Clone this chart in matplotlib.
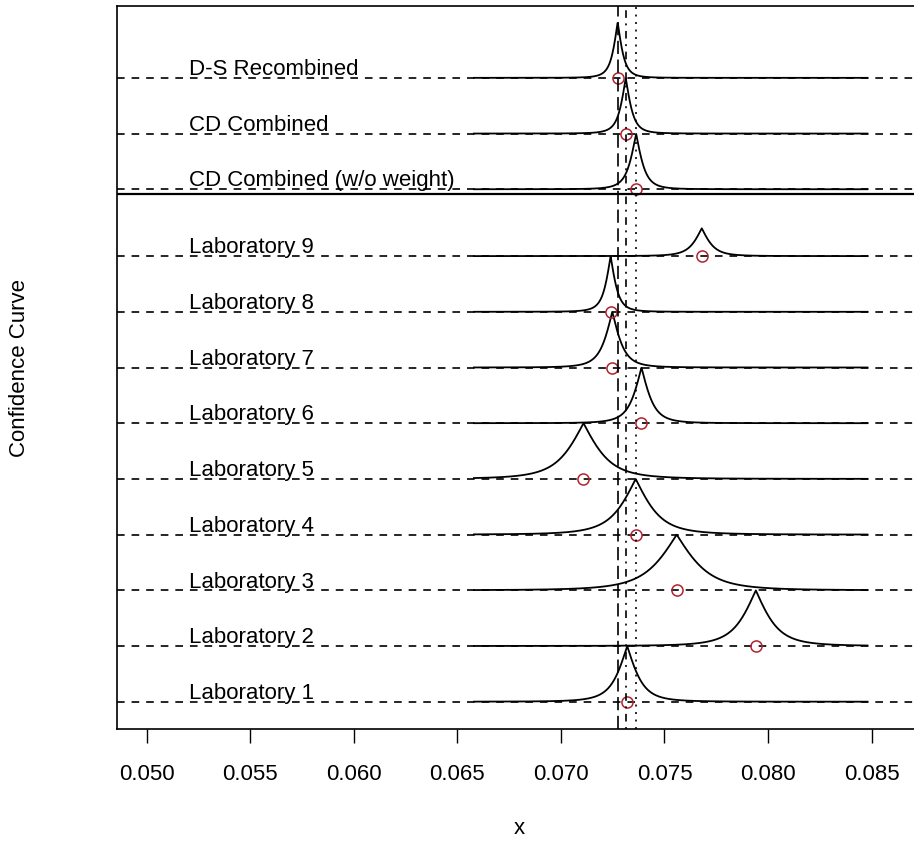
import numpy as np
import matplotlib
matplotlib.use("Agg")
import matplotlib.pyplot as plt

plt.rcParams['font.family'] = ['Liberation Sans', 'DejaVu Sans']
plt.rcParams['lines.scale_dashes'] = False

# study labels, point estimates, spreads and curve heights
labels = ["Laboratory 1", "Laboratory 2", "Laboratory 3", "Laboratory 4",
          "Laboratory 5", "Laboratory 6", "Laboratory 7", "Laboratory 8",
          "Laboratory 9", "CD Combined (w/o weight)", "CD Combined",
          "D-S Recombined"]
estimates = [0.0732, 0.07941, 0.07559, 0.07361, 0.07109, 0.07389, 0.07248,
             0.0724, 0.0768, 0.07363, 0.07313, 0.07274]
spreads = [0.000631, 0.000884, 0.00126, 0.00099, 0.00105, 0.000505, 0.000486,
           0.000316, 0.0005, 0.000379, 0.000316, 0.000284]
heights = [1, 1, 1, 1, 1, 1, 1, 1, 0.5, 1, 1, 1]
baselines = [1, 2, 3, 4, 5, 6, 7, 8, 9, 10.2, 11.2, 12.2]
separator = 10.11
x_lo, x_hi = 0.0658, 0.0848
xticks = [0.050, 0.055, 0.060, 0.065, 0.070, 0.075, 0.080, 0.085]


def conf_curve(x, mu, s):
    # two-sided confidence curve from a t(3) distribution
    t = np.abs(x - mu) / s
    cdf = 0.5 + (t / (np.sqrt(3) * (1 + t ** 2 / 3)) + np.arctan(t / np.sqrt(3))) / np.pi
    return 2 * (1 - cdf)


fig = plt.figure(figsize=(9.14, 8.42), dpi=100)
ax = fig.add_axes([116.7 / 914, 1 - 729 / 842, (922.3 - 116.7) / 914, 723 / 842])

xs = np.linspace(x_lo, x_hi, 1500)
for lab, mu, s, h, b in zip(labels, estimates, spreads, heights, baselines):
    ax.axhline(b, color='black', lw=1.2, linestyle=(0, (5.5, 5.0)))
    ax.plot(xs, b + h * conf_curve(xs, mu, s), color='black', lw=1.3)
    ax.plot([mu], [b], marker='o', ms=8, mfc='none', mec='#b2222e', mew=1.1)
    ax.text(0.05206, b + 0.05, lab, fontsize=16, va='baseline', ha='left')

ax.axhline(separator, color='black', lw=1.6)

# combined estimates as vertical reference lines
ax.axvline(estimates[11], color='black', lw=1.2, linestyle=(0, (9.5, 4.0)))
ax.axvline(estimates[10], color='black', lw=1.2, linestyle=(0, (1.4, 4.0, 5.5, 4.0)))
ax.axvline(estimates[9], color='black', lw=1.2, linestyle=(0, (1.4, 4.0)))

ax.set_xlim(0.04855, 0.08745)
ax.set_ylim(0.51, 13.49)
ax.set_xticks(xticks)
ax.set_xticklabels(["%.3f" % v for v in xticks], fontsize=16)
ax.set_yticks([])
ax.tick_params(axis='x', direction='out', length=10, width=1.0, pad=15)
for side in ['left', 'top', 'bottom', 'right']:
    ax.spines[side].set_linewidth(1.2)

ax.set_xlabel("x", fontsize=16, labelpad=24)
fig.text(20 / 914, 1 - 367.5 / 842, "Confidence Curve", rotation=90,
         ha='center', va='center', fontsize=16)

fig.savefig("out.png", dpi=100)
